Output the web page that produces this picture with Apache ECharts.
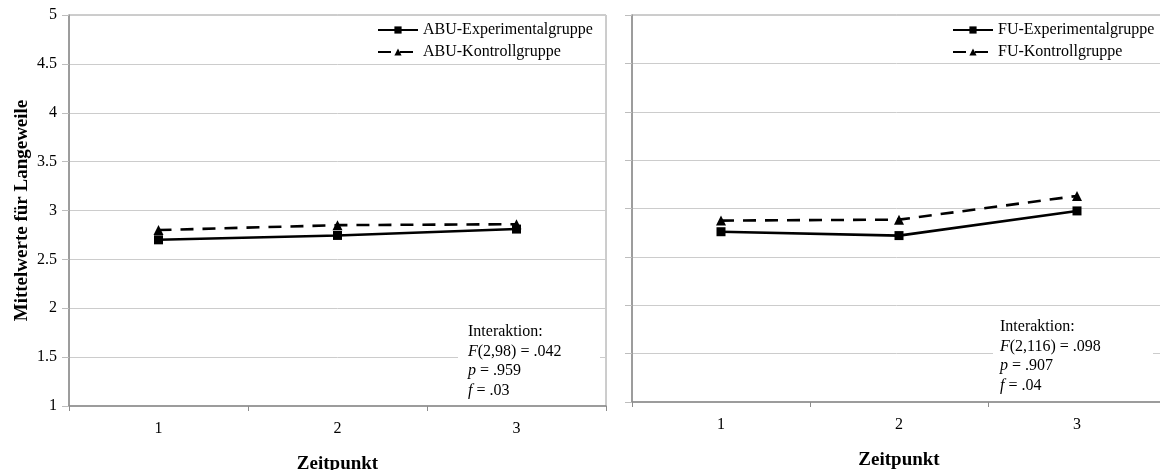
<!DOCTYPE html>
<html>
<head>
<meta charset="utf-8">
<script src="https://cdn.jsdelivr.net/npm/echarts@6/dist/echarts.min.js"></script>
<style>html,body{margin:0;padding:0;background:#fff}#c{width:1160px;height:470px}</style>
</head>
<body>
<div id="c"></div>
<script>
var categories = ['1', '2', '3'];
var abuExperimental = [2.70, 2.745, 2.81];
var abuKontroll = [2.80, 2.85, 2.86];
var fuExperimental = [2.76, 2.72, 2.975];
var fuKontroll = [2.875, 2.885, 3.13];
var seriesNames = ['ABU-Experimentalgruppe', 'ABU-Kontrollgruppe', 'FU-Experimentalgruppe', 'FU-Kontrollgruppe'];
var statsLeft = ['Interaktion:', 'F', '(2,98) = .042', 'p', ' = .959', 'f', ' = .03'];
var statsRight = ['Interaktion:', 'F', '(2,116) = .098', 'p', ' = .907', 'f', ' = .04'];
var yTitle = 'Mittelwerte für Langeweile';
var xTitle = 'Zeitpunkt';

var FONT = "'Liberation Serif', 'Times New Roman', serif";
var chart = echarts.init(document.getElementById('c'));

function xAxis(idx) {
  return {
    type: 'category', gridIndex: idx, data: categories, boundaryGap: true,
    name: xTitle, nameLocation: 'middle', nameGap: 49,
    nameTextStyle: {fontFamily: FONT, fontWeight: 'bold', fontSize: 19, color: '#000'},
    axisLine: {lineStyle: {color: '#8c8c8c', width: 1.5}},
    axisTick: {show: true, length: 5, lineStyle: {color: '#8c8c8c'}},
    axisLabel: {fontFamily: FONT, fontSize: 16, color: '#000', margin: 15},
    splitLine: {show: false}
  };
}
function yAxis(idx, showLabel) {
  return {
    type: 'value', gridIndex: idx, min: 1, max: 5, interval: 0.5,
    name: showLabel ? yTitle : '', nameLocation: 'middle', nameGap: 37,
    nameTextStyle: {fontFamily: FONT, fontWeight: 'bold', fontSize: 19, color: '#000'},
    axisLine: {show: true, lineStyle: {color: '#8c8c8c', width: 1.5}},
    axisTick: {show: true, length: 7, lineStyle: {color: '#bdbdbd'}},
    axisLabel: {show: showLabel, fontFamily: FONT, fontSize: 16, color: '#000', margin: 12},
    splitLine: {show: true, lineStyle: {color: '#cccccc', width: 1}}
  };
}
function line(name, data, idx, dashed) {
  return {
    name: name, type: 'line', xAxisIndex: idx, yAxisIndex: idx, data: data,
    symbol: dashed ? 'triangle' : 'rect', symbolSize: dashed ? 10 : 9,
    itemStyle: {color: '#000'},
    lineStyle: {color: '#000', width: 2.6, type: dashed ? [13, 9] : 'solid'},
    emphasis: {disabled: true}, animation: false
  };
}
function statsText(arr, x, y) {
  var txt = arr[0] + '\n{i|' + arr[1] + '}{n|' + arr[2] + '}\n{i|' + arr[3] + '}{n|' + arr[4] + '}\n{i|' + arr[5] + '}{n|' + arr[6] + '}';
  return {
    type: 'text', left: x, top: y, z: 100,
    style: {
      text: txt, fontFamily: FONT, fontSize: 16, lineHeight: 19.7, fill: '#000',
      rich: {
        i: {fontFamily: FONT, fontSize: 16, fontStyle: 'italic', lineHeight: 19.7, fill: '#000'},
        n: {fontFamily: FONT, fontSize: 16, lineHeight: 19.7, fill: '#000'}
      }
    }
  };
}
var legendCommon = {
  orient: 'vertical', itemWidth: 40, itemHeight: 9, itemGap: 6,
  textStyle: {fontFamily: FONT, fontSize: 16, color: '#000'},
  selectedMode: false, padding: 0
};

chart.setOption({
  animation: false,
  backgroundColor: '#fff',
  grid: [
    {left: 69, top: 15, width: 537, height: 391, show: true, borderColor: '#9a9a9a', borderWidth: 1, outerBoundsMode: 'none', containLabel: false},
    {left: 632, top: 15, width: 534, height: 387, show: true, borderColor: '#9a9a9a', borderWidth: 1, outerBoundsMode: 'none', containLabel: false}
  ],
  xAxis: [xAxis(0), xAxis(1)],
  yAxis: [yAxis(0, true), yAxis(1, false)],
  legend: [
    Object.assign({left: 377, top: 22, data: [seriesNames[0], seriesNames[1]]}, legendCommon),
    Object.assign({left: 952, top: 22, data: [seriesNames[2], seriesNames[3]]}, legendCommon)
  ],
  series: [
    line(seriesNames[0], abuExperimental, 0, false),
    line(seriesNames[1], abuKontroll, 0, true),
    line(seriesNames[2], fuExperimental, 1, false),
    line(seriesNames[3], fuKontroll, 1, true)
  ],
  graphic: [
    {type: 'rect', shape: {x: 458, y: 318, width: 142, height: 86}, style: {fill: '#fff'}, z: 90},
    {type: 'rect', shape: {x: 993, y: 313, width: 160, height: 87}, style: {fill: '#fff'}, z: 90},
    statsText(statsLeft, 468, 322),
    statsText(statsRight, 1000, 317)
  ]
});
</script>
</body>
</html>
